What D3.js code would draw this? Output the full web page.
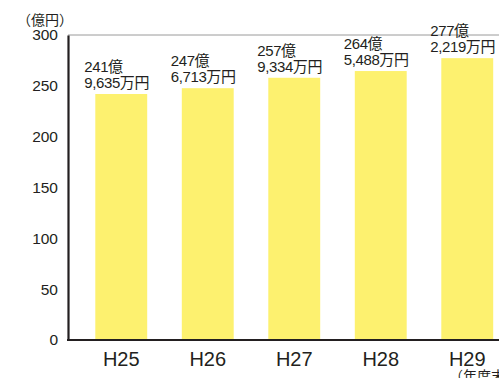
<!DOCTYPE html>
<html><head><meta charset="utf-8">
<script src="https://cdn.jsdelivr.net/npm/d3@7"></script>
<style>
body{margin:0;background:#fff;}
svg{display:block;}
text{font-family:"Liberation Sans",Arial,"Noto Sans CJK JP",sans-serif;fill:#231f20;}
</style></head>
<body>
<svg id="c" width="499" height="378"></svg>
<script>
const categories = ["H25","H26","H27","H28","H29"];
const values = [241.9635, 247.6713, 257.9334, 264.5488, 277.2219];
const labelOku = ["241億","247億","257億","264億","277億"];
const labelMan = ["9,635万円","6,713万円","9,334万円","5,488万円","2,219万円"];
const yTicks = [0,50,100,150,200,250,300];

const svg = d3.select("#c");
const x = d3.scaleBand().domain(categories).range([78, 510.5]).paddingInner(0.4).paddingOuter(0.2);
const y = d3.scaleLinear().domain([0,300]).range([340,35]);

// top gridline
svg.append("line").attr("x1",68).attr("x2",499).attr("y1",y(300)).attr("y2",y(300))
  .attr("stroke","#9a9a9a").attr("stroke-width",1);

// bars
svg.selectAll("rect.bar").data(values).join("rect").attr("class","bar")
  .attr("x",(d,i)=>x(categories[i])).attr("width",x.bandwidth())
  .attr("y",d=>y(d)).attr("height",d=>y(0)-y(d)).attr("fill","#fdf16f");

// value labels
const lg = svg.append("g");
values.forEach((v,i)=>{
  const lx = x(categories[i]) - 11;
  lg.append("text").attr("x",lx).attr("y",y(v)-22).attr("font-size",15).attr("letter-spacing",-0.4).text(labelOku[i]);
  lg.append("text").attr("x",lx).attr("y",y(v)-6).attr("font-size",15).attr("letter-spacing",-0.4).text(labelMan[i]);
});

// y axis
const ya = svg.append("g").attr("transform","translate(68,0)")
  .call(d3.axisLeft(y).tickValues(yTicks).tickSize(0).tickPadding(10));
ya.select(".domain").attr("stroke","#231f20").attr("stroke-width",2.2);
ya.selectAll("text").attr("font-size",15.5).attr("fill","#231f20").style("font-family",'"Liberation Sans",Arial,sans-serif');

// x axis
const xa = svg.append("g").attr("transform","translate(0,340)")
  .call(d3.axisBottom(x).tickSize(0).tickPadding(8));
xa.select(".domain").attr("d","M67,0H499").attr("stroke","#231f20").attr("stroke-width",2.2);
xa.selectAll("text").attr("font-size",20).attr("fill","#231f20").attr("dy","0.9em").style("font-family",'"Liberation Sans",Arial,sans-serif');

// unit labels
svg.append("text").attr("x",17).attr("y",25).attr("font-size",14).text("（億円）");
svg.append("text").attr("x",449).attr("y",381).attr("font-size",14).text("（年度末）");
</script>
</body></html>
